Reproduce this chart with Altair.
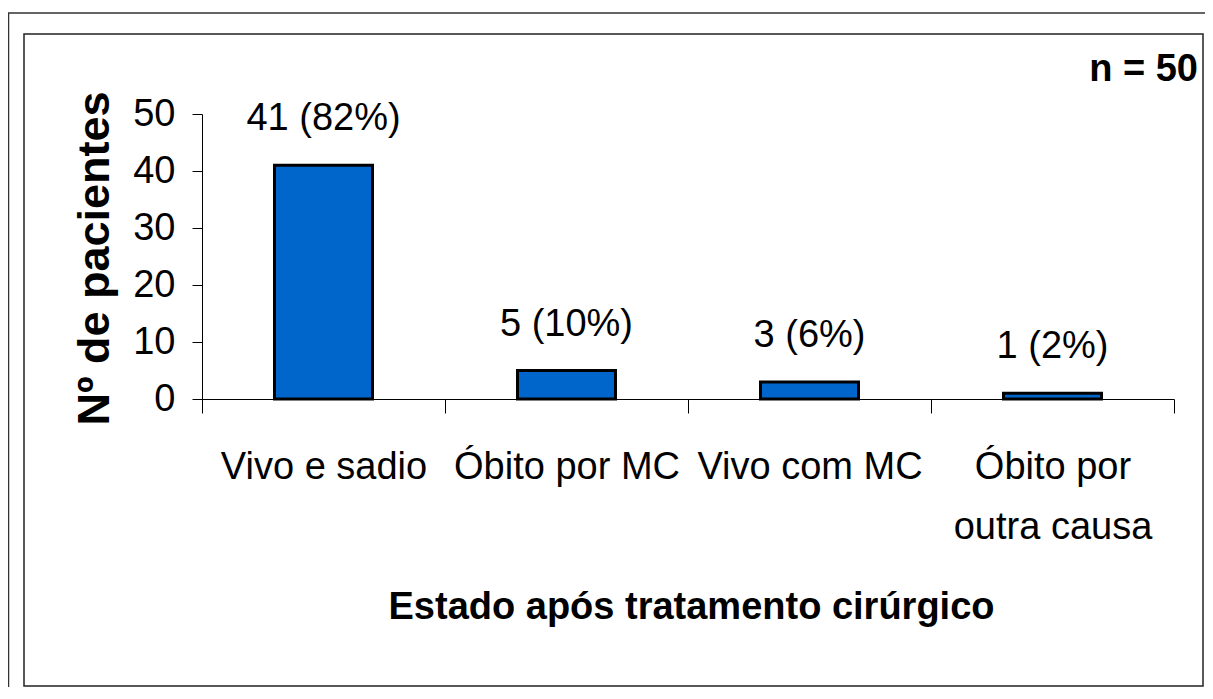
import altair as alt
import pandas as pd

categories = ["Vivo e sadio", "Óbito por MC", "Vivo com MC", "Óbito por outra causa"]
counts = [41, 5, 3, 1]
percents = [82, 10, 6, 2]
y_ticks = [0, 10, 20, 30, 40, 50]
annotation = "n = 50"
x_title = "Estado após tratamento cirúrgico"
y_title = "Nº de pacientes"

FONT = "Liberation Sans"

df = pd.DataFrame({
    "estado": categories,
    "n": counts,
    "label": [f"{c} ({p}%)" for c, p in zip(counts, percents)],
})

label_expr = (
    "datum.label == 'Óbito por outra causa' ? ['Óbito por', 'outra causa'] : datum.label"
)

x_enc = alt.X(
    "estado:N",
    sort=categories,
    scale=alt.Scale(paddingInner=0, paddingOuter=0),
    axis=alt.Axis(
        title=x_title,
        labelAngle=0,
        labelFont=FONT,
        labelFontSize=38,
        labelColor="black",
        labelPadding=35,
        labelLineHeight=60,
        labelExpr=label_expr,
        tickBand="extent",
        tickSize=14,
        tickColor="black",
        domainColor="black",
        titleFont=FONT,
        titleFontSize=38,
        titleFontWeight="bold",
        titleColor="black",
        titleBaseline="alphabetic",
        titleX=489,
        titleY=219,
        labelLimit=400,
    ),
)

y_enc = alt.Y(
    "n:Q",
    scale=alt.Scale(domain=[0, 50], nice=False),
    axis=alt.Axis(
        title=y_title,
        values=y_ticks,
        grid=False,
        labelFont=FONT,
        labelFontSize=38,
        labelColor="black",
        labelPadding=17,
        tickSize=10,
        tickColor="black",
        domainColor="black",
        titleFont=FONT,
        titleFontSize=45,
        titleFontWeight="bold",
        titleColor="black",
        titleBaseline="alphabetic",
        titleX=-94,
        titleY=144,
        titleAngle=270,
    ),
)

bars = alt.Chart(df).mark_bar(
    size=98, color="#0066CC", stroke="black", strokeWidth=3
).encode(x=x_enc, y=y_enc)

texts = alt.Chart(df).mark_text(
    font=FONT, fontSize=38, color="black", baseline="alphabetic", dy=-35
).encode(x=alt.X("estado:N", sort=categories), y="n:Q", text="label:N")

one = pd.DataFrame({"k": [0]})

outer = alt.Chart(one).mark_rect(
    filled=False, stroke="#333333", strokeWidth=1.5
).encode(
    x=alt.value(-193.5), x2=alt.value(1030), y=alt.value(-101), y2=alt.value(600)
)

inner = alt.Chart(one).mark_rect(
    filled=False, stroke="#222222", strokeWidth=1.5
).encode(
    x=alt.value(-178), x2=alt.value(1001), y=alt.value(-80), y2=alt.value(572)
)

note = alt.Chart(pd.DataFrame({"t": [annotation]})).mark_text(
    font=FONT, fontSize=38, fontWeight="bold", color="black",
    align="right", baseline="alphabetic"
).encode(x=alt.value(996), y=alt.value(-33), text="t:N")

chart = alt.layer(outer, inner, bars, texts, note).properties(
    width=972,
    height=285,
    padding={"left": 194, "top": 106, "right": 31, "bottom": 288},
    autosize=alt.AutoSizeParams(type="none"),
    background="white",
).configure_view(stroke=None)

chart.save("out.html", embed_options={"renderer": "svg", "actions": False})
